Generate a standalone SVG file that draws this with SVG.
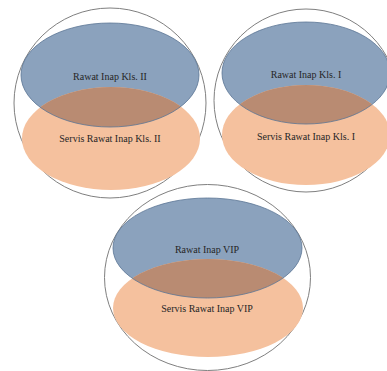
<svg xmlns="http://www.w3.org/2000/svg" width="387" height="371" viewBox="0 0 387 371">
<style>
.outer{fill:none;stroke:#7f7f7f;stroke-width:1}
.blue{fill:#8ba2bd}
.orange{fill:#f5c19e}
.overlap{fill:#b98b72}
.bline{fill:none;stroke:#5a7594;stroke-width:0.8}
text{font-family:"Liberation Serif","Times New Roman",serif;font-size:10px;fill:#262626;text-anchor:middle;dominant-baseline:central}
</style>
<defs>
<clipPath id="c1"><ellipse cx="110" cy="75" rx="89" ry="52"/></clipPath>
<clipPath id="c2"><ellipse cx="306" cy="73" rx="84" ry="51"/></clipPath>
<clipPath id="c3"><ellipse cx="207.5" cy="248" rx="94.5" ry="50"/></clipPath>
</defs>
<g id="kls2">
<ellipse class="outer" cx="110" cy="103" rx="96" ry="95"/>
<ellipse class="blue" cx="110" cy="75" rx="89" ry="52"/>
<ellipse class="orange" cx="111" cy="138.5" rx="89" ry="51.5"/>
<ellipse class="overlap" clip-path="url(#c1)" cx="111" cy="138.5" rx="89" ry="51.5"/>
<ellipse class="bline" cx="110" cy="75" rx="89" ry="52"/>
<text x="110" y="76">Rawat Inap Kls. II</text>
<text x="110" y="138">Servis Rawat Inap Kls. II</text>
</g>
<g id="kls1">
<ellipse class="outer" cx="306" cy="100.5" rx="92" ry="91.5"/>
<ellipse class="blue" cx="306" cy="73" rx="84" ry="51"/>
<ellipse class="orange" cx="306" cy="135" rx="84" ry="50"/>
<ellipse class="overlap" clip-path="url(#c2)" cx="306" cy="135" rx="84" ry="50"/>
<ellipse class="bline" cx="306" cy="73" rx="84" ry="51"/>
<text x="306" y="74">Rawat Inap Kls. I</text>
<text x="306" y="136">Servis Rawat Inap Kls. I</text>
</g>
<g id="vip">
<ellipse class="outer" cx="207.5" cy="277.5" rx="103" ry="93"/>
<ellipse class="blue" cx="207.5" cy="248" rx="94.5" ry="50"/>
<ellipse class="orange" cx="208" cy="308" rx="95" ry="49"/>
<ellipse class="overlap" clip-path="url(#c3)" cx="208" cy="308" rx="95" ry="49"/>
<ellipse class="bline" cx="207.5" cy="248" rx="94.5" ry="50"/>
<text x="207" y="249">Rawat Inap VIP</text>
<text x="207" y="308">Servis Rawat Inap VIP</text>
</g>
<g id="connectors"/>
</svg>
